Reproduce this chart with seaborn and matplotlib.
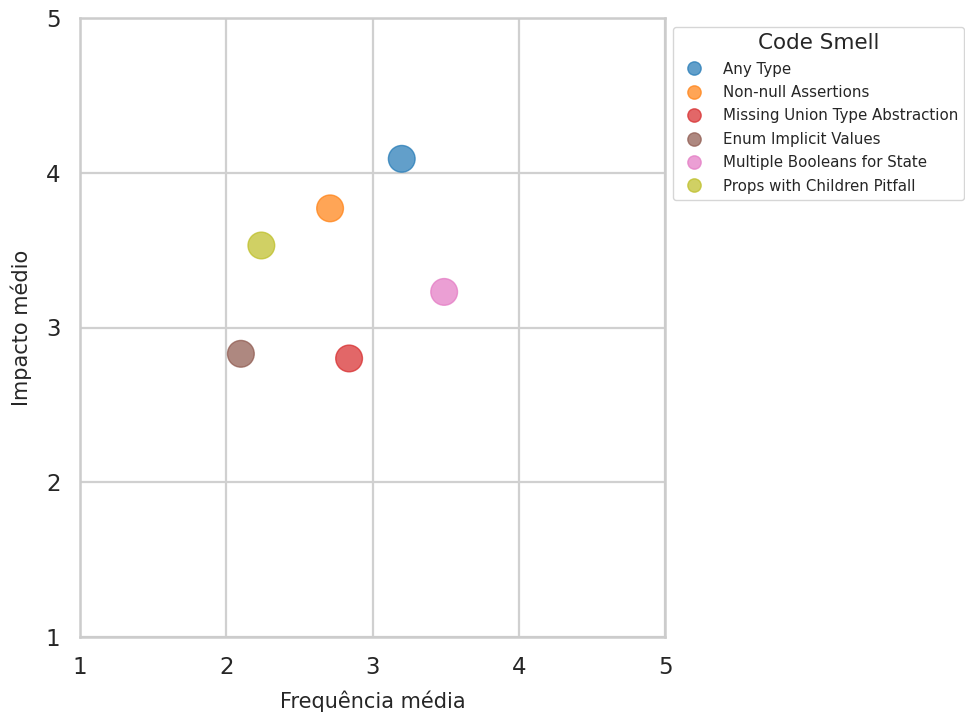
import matplotlib
matplotlib.use("Agg")
import matplotlib.pyplot as plt
import seaborn as sns
import pandas as pd

smells = [
    "Any Type",
    "Non-null Assertions",
    "Missing Union Type Abstraction",
    "Enum Implicit Values",
    "Multiple Booleans for State",
    "Props with Children Pitfall",
]
freq = [3.20, 2.71, 2.84, 2.10, 3.49, 2.24]
impact = [4.09, 3.77, 2.80, 2.83, 3.23, 3.53]

tab = sns.color_palette("tab10")
colors = [tab[0], tab[1], tab[3], tab[5], tab[6], tab[8]]

df = pd.DataFrame({"Code Smell": smells, "freq": freq, "impact": impact})

sns.set_theme(style="whitegrid")
fig = plt.figure(figsize=(9.65, 7.13), dpi=100)
ax = fig.add_axes([80 / 965, 1 - 637 / 713, 585 / 965, 619 / 713])

sns.scatterplot(data=df, x="freq", y="impact", hue="Code Smell",
                palette=colors, s=370, alpha=0.7, ax=ax, legend=True,
                edgecolor="face", linewidth=1)

ax.set_xlim(1, 5)
ax.set_ylim(1, 5)
ax.set_xticks([1, 2, 3, 4, 5])
ax.set_yticks([1, 2, 3, 4, 5])
ax.tick_params(labelsize=16.5, pad=8)
ax.set_xlabel("Frequência média", fontsize=15, labelpad=8)
ax.set_ylabel("Impacto médio", fontsize=15, labelpad=10)
for sp in ax.spines.values():
    sp.set_edgecolor("#cccccc")
    sp.set_linewidth(1.8)
ax.grid(color="#d0d0d0", linewidth=1.6)

leg = ax.legend(title="Code Smell", loc="upper left", bbox_to_anchor=(1.014, 0.985),
                borderaxespad=0, fontsize=10.8, title_fontsize=15.5,
                markerscale=0.5, labelspacing=0.56, handletextpad=0.9)
for h in leg.legend_handles:
    h.set_alpha(0.7)

fig.savefig("out.png", dpi=100)
